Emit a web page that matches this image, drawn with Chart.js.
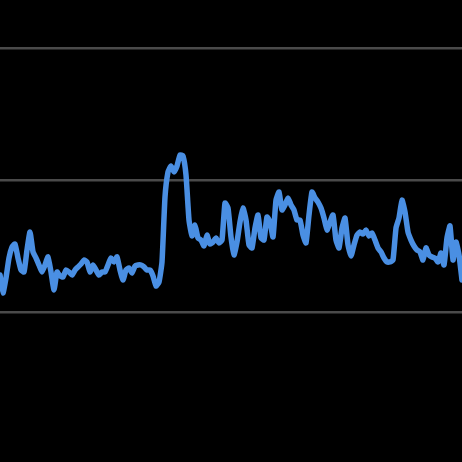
<!DOCTYPE html>
<html>
<head>
<meta charset="utf-8">
<script src="https://cdn.jsdelivr.net/npm/chart.js@4/dist/chart.umd.min.js"></script>
<style>
html,body{margin:0;padding:0;background:#000;}
#wrap{width:462px;height:462px;}
</style>
</head>
<body>
<div id="wrap"><canvas id="c" width="462" height="462"></canvas></div>
<script>
const values = [
128.0,114.4,125.8,140.9,149.2,151.5,140.9,131.8,130.3,147.0,
160.6,145.5,140.9,135.6,130.3,135.6,141.7,130.3,116.7,130.3,
127.3,126.5,131.8,130.3,128.0,131.8,134.1,136.4,139.4,137.9,
130.3,135.6,131.8,128.0,130.3,130.3,135.6,140.9,137.9,141.7,
131.8,124.2,131.8,133.3,129.5,134.8,135.6,135.6,134.1,131.8,
131.8,127.3,119.7,122.7,137.9,187.1,206.1,210.6,206.1,210.6,
218.9,218.2,203.8,169.7,157.6,165.9,156.1,154.5,150.0,158.3,
151.5,153.0,156.1,152.3,154.5,182.6,178.8,156.8,143.2,153.0,
168.2,178.8,169.7,150.8,148.5,163.6,173.5,156.1,154.5,172.0,
168.2,156.8,184.8,190.9,177.3,181.1,186.4,181.1,177.3,169.7,
169.7,158.3,152.3,173.5,190.9,186.4,183.3,178.8,171.2,162.1,
168.2,173.5,154.5,148.5,163.6,171.2,150.8,142.4,150.8,158.3,
160.6,159.1,162.1,157.6,159.8,154.5,148.5,145.5,140.9,137.9,
137.9,139.4,163.6,171.2,184.8,175.8,160.6,154.5,150.0,147.0,
145.5,139.4,148.5,143.2,141.7,140.9,137.9,144.7,135.6,156.1,
165.2,139.4,153.0,143.2,124.2
];
const categories = values.map((v, i) => String(i));
const tickValues = [100, 200, 300];
const yMin = -13.64;
const yMax = 336.36;

new Chart(document.getElementById('c'), {
  type: 'line',
  data: {
    labels: categories,
    datasets: [{
      data: values,
      borderColor: '#4a8fe3',
      borderWidth: 5.5,
      pointRadius: 0,
      tension: 0.15,
      fill: false,
      borderJoinStyle: 'round',
      borderCapStyle: 'round'
    }]
  },
  options: {
    responsive: false,
    animation: false,
    layout: { padding: 0 },
    plugins: { legend: { display: false }, tooltip: { enabled: false } },
    scales: {
      x: { display: false, offset: false },
      y: {
        min: yMin, max: yMax,
        afterBuildTicks: (axis) => { axis.ticks = tickValues.map(v => ({ value: v })); },
        ticks: { display: false },
        border: { display: false },
        grid: { color: '#4a4a4a', lineWidth: 2.5, drawTicks: false }
      }
    }
  },
  plugins: [{
    id: 'bg',
    beforeDraw: (chart) => {
      const ctx = chart.ctx;
      ctx.save();
      ctx.fillStyle = '#000';
      ctx.fillRect(0, 0, chart.width, chart.height);
      ctx.restore();
    }
  }]
});
</script>
</body>
</html>
